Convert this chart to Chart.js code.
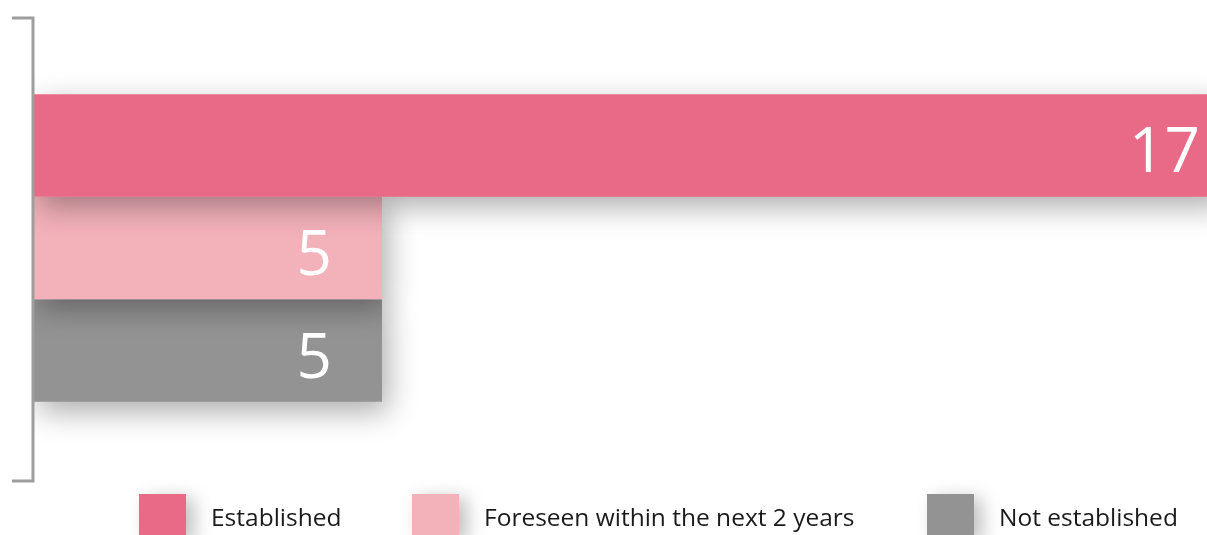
<!DOCTYPE html>
<html lang="en">
<head>
    <meta charset="UTF-8">
    <title>Established</title>
    <script src="https://cdn.jsdelivr.net/npm/chart.js"></script>
    <style>
        html, body { margin: 0; padding: 0; background: #fff; }
        #wrap { width: 1207px; height: 535px; position: relative; }
    </style>
</head>
<body>
    <div id="wrap"><canvas id="chart"></canvas></div>

    <script>
        // data
        const categories = [''];
        const seriesNames = ['Established', 'Foreseen within the next 2 years', 'Not established'];
        const seriesValues = [[17], [5], [5]];
        const seriesColors = ['#E86A87', '#F3B1BA', '#939393'];

        const FONT = '"Open Sans", "Noto Sans", sans-serif';

        // soft drop shadow under every bar
        const barShadow = {
            id: 'barShadow',
            beforeDatasetDraw(chart) {
                const ctx = chart.ctx;
                ctx.save();
                ctx.shadowColor = 'rgba(0,0,0,0.32)';
                ctx.shadowBlur = 28;
                ctx.shadowOffsetX = 6;
                ctx.shadowOffsetY = 10;
            },
            afterDatasetDraw(chart) {
                chart.ctx.restore();
            }
        };

        // white value at the end of each bar
        const valueLabels = {
            id: 'valueLabels',
            afterDatasetsDraw(chart) {
                const ctx = chart.ctx;
                const area = chart.chartArea;
                ctx.save();
                ctx.fillStyle = '#fff';
                ctx.font = '400 62px ' + FONT;
                ctx.textAlign = 'right';
                ctx.textBaseline = 'alphabetic';
                chart.data.datasets.forEach((ds, i) => {
                    chart.getDatasetMeta(i).data.forEach((bar, j) => {
                        let x = bar.x > area.right ? area.right - 7 : bar.x - 50;
                        ctx.fillText(String(ds.data[j]), x, bar.y + 27);
                    });
                });
                ctx.restore();
            }
        };

        // bracket-style axis on the left
        const bracket = {
            id: 'bracket',
            afterDraw(chart) {
                const ctx = chart.ctx;
                const a = chart.chartArea;
                ctx.save();
                ctx.strokeStyle = '#9E9E9E';
                ctx.lineWidth = 3;
                ctx.beginPath();
                ctx.moveTo(12, a.top + 2);
                ctx.lineTo(a.left, a.top + 2);
                ctx.lineTo(a.left, a.bottom + 1);
                ctx.lineTo(12, a.bottom + 1);
                ctx.stroke();
                ctx.restore();
            }
        };

        // legend along the bottom
        const legendX = [139, 412, 927];
        const bottomLegend = {
            id: 'bottomLegend',
            afterDraw(chart) {
                const ctx = chart.ctx;
                ctx.save();
                chart.data.datasets.forEach((ds, i) => {
                    const x = legendX[i];
                    ctx.save();
                    ctx.shadowColor = 'rgba(0,0,0,0.25)';
                    ctx.shadowBlur = 18;
                    ctx.shadowOffsetX = 8;
                    ctx.shadowOffsetY = 4;
                    ctx.fillStyle = ds.backgroundColor;
                    ctx.fillRect(x, 494, 47, 45);
                    ctx.restore();
                    ctx.fillStyle = '#1a1a1a';
                    ctx.font = '24.5px ' + FONT;
                    ctx.textAlign = 'left';
                    ctx.textBaseline = 'alphabetic';
                    ctx.fillText(ds.label, x + 72, 526);
                });
                ctx.restore();
            }
        };

        const ctx = document.getElementById('chart').getContext('2d');
        const chart = new Chart(ctx, {
            type: 'bar',
            data: {
                labels: categories,
                datasets: seriesNames.map((name, i) => ({
                    label: name,
                    data: seriesValues[i],
                    backgroundColor: seriesColors[i],
                    borderWidth: 0,
                    barPercentage: 1,
                    categoryPercentage: 0.663
                }))
            },
            options: {
                indexAxis: 'y',
                responsive: true,
                maintainAspectRatio: false,
                animation: false,
                layout: { padding: { left: 33, right: 0, top: 16, bottom: 55 } },
                scales: {
                    x: { display: false, min: 0, max: 16.82 },
                    y: { display: false }
                },
                plugins: {
                    legend: { display: false },
                    tooltip: { enabled: false }
                }
            },
            plugins: [barShadow, valueLabels, bracket, bottomLegend]
        });
    </script>
</body>
</html>
